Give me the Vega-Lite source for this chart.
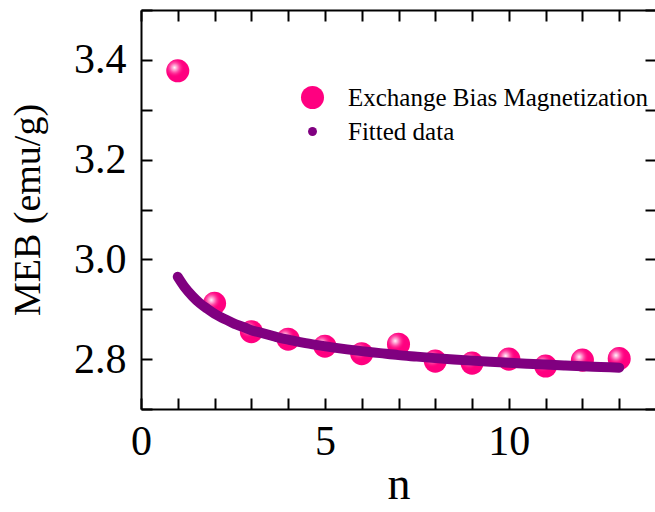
{
  "$schema": "https://vega.github.io/schema/vega-lite/v6.json",
  "autosize": {"type": "none"},
  "padding": {"left": 141, "top": 10, "right": 0, "bottom": 103},
  "width": 515,
  "height": 399,
  "background": "white",
  "config": {
    "view": {"stroke": null},
    "font": "Liberation Serif",
    "axis": {
      "domainColor": "black", "domainWidth": 2, "tickColor": "black", "tickWidth": 2,
      "tickSize": -11, "grid": false, "labelFont": "Liberation Serif", "labelFontSize": 42,
      "labelColor": "black", "titleFont": "Liberation Serif", "titleColor": "black",
      "titleFontWeight": "normal", "labelFlush": false, "labelOverlap": false
    }
  },
  "datasets": {
    "meas": [
      {"n": 1, "M": 3.378, "series": "Exchange Bias Magnetization"},
      {"n": 2, "M": 2.912, "series": "Exchange Bias Magnetization"},
      {"n": 3, "M": 2.855, "series": "Exchange Bias Magnetization"},
      {"n": 4, "M": 2.840, "series": "Exchange Bias Magnetization"},
      {"n": 5, "M": 2.826, "series": "Exchange Bias Magnetization"},
      {"n": 6, "M": 2.811, "series": "Exchange Bias Magnetization"},
      {"n": 7, "M": 2.830, "series": "Exchange Bias Magnetization"},
      {"n": 8, "M": 2.796, "series": "Exchange Bias Magnetization"},
      {"n": 9, "M": 2.792, "series": "Exchange Bias Magnetization"},
      {"n": 10, "M": 2.800, "series": "Exchange Bias Magnetization"},
      {"n": 11, "M": 2.786, "series": "Exchange Bias Magnetization"},
      {"n": 12, "M": 2.798, "series": "Exchange Bias Magnetization"},
      {"n": 13, "M": 2.801, "series": "Exchange Bias Magnetization"}
    ],
    "fit": [
      {"n": 1.0, "M": 2.965}, {"n": 1.2, "M": 2.943}, {"n": 1.4, "M": 2.926},
      {"n": 1.6, "M": 2.912}, {"n": 1.8, "M": 2.901}, {"n": 2.0, "M": 2.891},
      {"n": 2.2, "M": 2.883}, {"n": 2.4, "M": 2.876}, {"n": 2.6, "M": 2.869},
      {"n": 2.8, "M": 2.864}, {"n": 3.0, "M": 2.858}, {"n": 3.2, "M": 2.854},
      {"n": 3.4, "M": 2.850}, {"n": 3.6, "M": 2.846}, {"n": 3.8, "M": 2.842},
      {"n": 4.0, "M": 2.839}, {"n": 4.4, "M": 2.833}, {"n": 4.8, "M": 2.828},
      {"n": 5.2, "M": 2.8235}, {"n": 5.6, "M": 2.8195}, {"n": 6.0, "M": 2.816},
      {"n": 6.5, "M": 2.812}, {"n": 7.0, "M": 2.808}, {"n": 7.5, "M": 2.805},
      {"n": 8.0, "M": 2.802}, {"n": 8.5, "M": 2.7994}, {"n": 9.0, "M": 2.797},
      {"n": 9.5, "M": 2.7948}, {"n": 10.0, "M": 2.7927}, {"n": 10.5, "M": 2.7908},
      {"n": 11.0, "M": 2.789}, {"n": 11.5, "M": 2.7873}, {"n": 12.0, "M": 2.7857},
      {"n": 12.5, "M": 2.7843}, {"n": 13.0, "M": 2.7829}
    ]
  },
  "layer": [
    {
      "data": {"name": "meas"},
      "mark": {"type": "point", "filled": true, "opacity": 1, "shape": "circle"},
      "encoding": {
        "x": {"field": "n", "type": "quantitative", "scale": {"domain": [0, 14], "nice": false},
          "axis": {"orient": "bottom", "values": [0,1,2,3,4,5,6,7,8,9,10,11,12,13,14],
            "labelExpr": "datum.value % 5 === 0 ? datum.label : ''", "labelPadding": 23,
            "title": "n", "titleFontSize": 46, "titlePadding": 0}},
        "y": {"field": "M", "type": "quantitative", "scale": {"domain": [2.7, 3.5], "nice": false, "zero": false},
          "axis": {"orient": "left", "values": [2.7,2.8,2.9,3.0,3.1,3.2,3.3,3.4,3.5],
            "labelExpr": "(round(datum.value*10) % 2 === 0 && datum.value > 2.75 && datum.value < 3.45) ? format(datum.value, '.1f') : ''",
            "labelPadding": 26, "title": "MEB (emu/g)", "titleFontSize": 38, "titlePadding": 26}},
        "color": {"field": "series", "type": "nominal",
          "scale": {"domain": ["Exchange Bias Magnetization", "Fitted data"], "range": ["#FF0080", "#800080"]},
          "legend": {"orient": "none", "legendX": 159, "legendY": 75, "title": null,
            "labelFont": "Liberation Serif", "labelFontSize": 25, "labelColor": "black",
            "labelOffset": 23, "rowPadding": 8, "symbolStrokeWidth": 0, "labelLimit": 0}},
        "size": {"field": "series", "type": "ordinal",
          "scale": {"domain": ["Exchange Bias Magnetization", "Fitted data"], "range": [530, 80]},
          "legend": {"orient": "none", "legendX": 159, "legendY": 75, "title": null,
            "labelFont": "Liberation Serif", "labelFontSize": 25, "labelColor": "black",
            "labelOffset": 23, "rowPadding": 8, "symbolStrokeWidth": 0, "labelLimit": 0}}
      }
    },
    {
      "data": {"name": "meas"},
      "mark": {"type": "point", "filled": true, "size": 530, "shape": "circle",
        "fill": {"gradient": "radial", "x1": 0.36, "y1": 0.36, "r1": 0, "x2": 0.36, "y2": 0.36, "r2": 0.42,
          "stops": [{"offset": 0, "color": "#ffffff"}, {"offset": 0.35, "color": "rgba(255,160,210,0.8)"}, {"offset": 1, "color": "rgba(255,0,128,0)"}]},
        "opacity": 1},
      "encoding": {
        "x": {"field": "n", "type": "quantitative", "axis": null},
        "y": {"field": "M", "type": "quantitative", "axis": null}
      }
    },
    {
      "data": {"name": "fit"},
      "mark": {"type": "line", "color": "#800080", "strokeWidth": 10, "strokeCap": "round", "strokeJoin": "round", "interpolate": "monotone"},
      "encoding": {
        "x": {"field": "n", "type": "quantitative", "axis": null},
        "y": {"field": "M", "type": "quantitative", "axis": null}
      }
    },
    {
      "data": {"name": "fit"},
      "mark": {"type": "line", "color": "#800080", "opacity": 0, "strokeWidth": 1},
      "encoding": {
        "x": {"field": "n", "type": "quantitative",
          "axis": {"orient": "top", "values": [0,1,2,3,4,5,6,7,8,9,10,11,12,13,14], "labels": false, "title": null}},
        "y": {"field": "M", "type": "quantitative",
          "axis": {"orient": "right", "values": [2.7,2.8,2.9,3.0,3.1,3.2,3.3,3.4,3.5], "labels": false, "title": null}}
      }
    }
  ],
  "resolve": {"axis": {"x": "independent", "y": "independent"}}
}
